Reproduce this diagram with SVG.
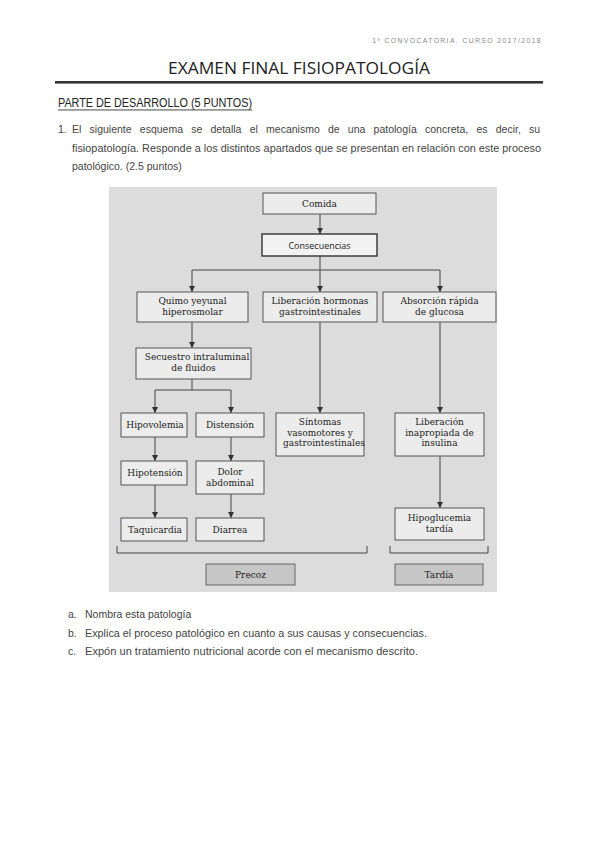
<svg xmlns="http://www.w3.org/2000/svg" width="599" height="848" viewBox="0 0 599 848">
<defs>
<marker id="arr" viewBox="0 0 8 8" refX="8" refY="4" markerWidth="6" markerHeight="6" markerUnits="userSpaceOnUse" orient="auto">
<path d="M0,0 L8,4 L0,8 z" fill="#333"/>
</marker>
</defs>
<style>
.hdr{font-family:"Liberation Sans",Arial,sans-serif;fill:#333}
.body{font-family:"Liberation Sans",Arial,sans-serif;font-size:10.5px;fill:#444}
.box{fill:#ececec;stroke:#555;stroke-width:1}
.dark{fill:#c6c6c6;stroke:#666;stroke-width:1}
.lbl{font-family:"DejaVu Serif","Liberation Serif",serif;font-size:9px;fill:#222;text-anchor:middle}
.sans{font-family:"Open Sans","Liberation Sans",sans-serif;font-size:9px;fill:#222;text-anchor:middle}
.con{fill:none;stroke:#444;stroke-width:1}
</style>
<rect width="599" height="848" fill="#ffffff"/>
<text class="hdr" x="542" y="43" font-size="6.8" style="fill:#888" text-anchor="end" letter-spacing="1.4">1º CONVOCATORIA. CURSO 2017/2018</text>
<text class="hdr" x="168" y="74" font-size="17" textLength="262" lengthAdjust="spacingAndGlyphs" style="font-family:'Open Sans','Liberation Sans',sans-serif;fill:#222">EXAMEN FINAL FISIOPATOLOGÍA</text>
<rect x="55" y="81" width="488" height="2.6" fill="#333"/>
<text class="hdr" x="58" y="107" font-size="12" textLength="194" lengthAdjust="spacingAndGlyphs" style="fill:#222">PARTE DE DESARROLLO (5 PUNTOS)</text>
<rect x="58" y="109.5" width="194" height="0.9" fill="#333"/>
<text class="body" x="58" y="133">1.</text>
<text class="body" x="72" y="133" word-spacing="5.3">El siguiente esquema se detalla el mecanismo de una patología concreta, es decir, su</text>
<text class="body" x="72" y="152" textLength="469" lengthAdjust="spacingAndGlyphs">fisiopatología. Responde a los distintos apartados que se presentan en relación con este proceso</text>
<text class="body" x="72" y="170">patológico. (2.5 puntos)</text>

<rect x="109" y="187" width="388" height="405" fill="#dcdcdc"/>

<g id="connectors">
<line class="con" x1="320" y1="214" x2="320" y2="234" marker-end="url(#arr)"/>
<line class="con" x1="320" y1="256" x2="320" y2="270"/>
<line class="con" x1="192" y1="270" x2="440" y2="270"/>
<line class="con" x1="192" y1="270" x2="192" y2="292" marker-end="url(#arr)"/>
<line class="con" x1="320" y1="270" x2="320" y2="292" marker-end="url(#arr)"/>
<line class="con" x1="440" y1="270" x2="440" y2="292" marker-end="url(#arr)"/>
<line class="con" x1="192" y1="322" x2="192" y2="348" marker-end="url(#arr)"/>
<line class="con" x1="192" y1="379" x2="192" y2="390"/>
<line class="con" x1="155" y1="390" x2="231" y2="390"/>
<line class="con" x1="155" y1="390" x2="155" y2="413" marker-end="url(#arr)"/>
<line class="con" x1="231" y1="390" x2="231" y2="413" marker-end="url(#arr)"/>
<line class="con" x1="320" y1="322" x2="320" y2="413" marker-end="url(#arr)"/>
<line class="con" x1="440" y1="322" x2="440" y2="413" marker-end="url(#arr)"/>
<line class="con" x1="155" y1="437" x2="155" y2="461" marker-end="url(#arr)"/>
<line class="con" x1="231" y1="437" x2="231" y2="461" marker-end="url(#arr)"/>
<line class="con" x1="155" y1="485" x2="155" y2="518" marker-end="url(#arr)"/>
<line class="con" x1="231" y1="494" x2="231" y2="518" marker-end="url(#arr)"/>
<line class="con" x1="440" y1="456" x2="440" y2="508" marker-end="url(#arr)"/>
<path class="con" d="M117,546 V553 H367 V546"/>
<path class="con" d="M390,546 V553 H488 V546"/>
</g>

<g id="comida"><rect class="box" x="263" y="193" width="113" height="21"/><text class="lbl" x="319.5" y="207">Comida</text></g>
<g id="consecuencias"><rect class="box" x="262" y="234" width="115" height="22" style="fill:#f2f2f2;stroke:#333;stroke-width:1.4"/><text class="sans" x="319.5" y="248.5">Consecuencias</text></g>
<g id="quimo"><rect class="box" x="137" y="292" width="111" height="30"/><text class="lbl" x="192.5" y="304">Quimo yeyunal</text><text class="lbl" x="192.5" y="315">hiperosmolar</text></g>
<g id="liberacion-hormonas"><rect class="box" x="263" y="292" width="114" height="30"/><text class="lbl" x="320" y="304">Liberación hormonas</text><text class="lbl" x="320" y="315">gastrointestinales</text></g>
<g id="absorcion"><rect class="box" x="383" y="292" width="113" height="30"/><text class="lbl" x="439.5" y="304">Absorción rápida</text><text class="lbl" x="439.5" y="315">de glucosa</text></g>
<g id="secuestro"><rect class="box" x="136" y="348" width="115" height="31"/><text class="lbl" x="197" y="360">Secuestro intraluminal</text><text class="lbl" x="193.5" y="371">de fluidos</text></g>
<g id="hipovolemia"><rect class="box" x="121" y="413" width="66" height="24"/><text class="lbl" x="155" y="428">Hipovolemia</text></g>
<g id="distension"><rect class="box" x="196" y="413" width="68" height="24"/><text class="lbl" x="230" y="428">Distensión</text></g>
<g id="sintomas"><rect class="box" x="276" y="413" width="88" height="43"/><text class="lbl" x="320" y="425">Síntomas</text><text class="lbl" x="320" y="435.5">vasomotores y</text><text class="lbl" x="324" y="446">gastrointestinales</text></g>
<g id="liberacion-insulina"><rect class="box" x="395" y="413" width="89" height="43"/><text class="lbl" x="439.5" y="425">Liberación</text><text class="lbl" x="439.5" y="435.5">inapropiada de</text><text class="lbl" x="439.5" y="446">insulina</text></g>
<g id="hipotension"><rect class="box" x="121" y="461" width="66" height="24"/><text class="lbl" x="155" y="476">Hipotensión</text></g>
<g id="dolor"><rect class="box" x="196" y="461" width="68" height="33"/><text class="lbl" x="230" y="475">Dolor</text><text class="lbl" x="230" y="486">abdominal</text></g>
<g id="taquicardia"><rect class="box" x="121" y="518" width="66" height="23"/><text class="lbl" x="155" y="533">Taquicardia</text></g>
<g id="diarrea"><rect class="box" x="196" y="518" width="68" height="23"/><text class="lbl" x="230" y="533">Diarrea</text></g>
<g id="hipoglucemia"><rect class="box" x="395" y="508" width="89" height="32"/><text class="lbl" x="439.5" y="521">Hipoglucemia</text><text class="lbl" x="439.5" y="532">tardía</text></g>
<g id="precoz"><rect class="dark" x="206" y="564" width="89" height="21"/><text class="lbl" x="250.5" y="578">Precoz</text></g>
<g id="tardia"><rect class="dark" x="395" y="564" width="88" height="21"/><text class="lbl" x="439" y="578">Tardía</text></g>

<text class="body" x="68" y="618">a.</text><text class="body" x="85" y="618">Nombra esta patología</text>
<text class="body" x="68" y="637">b.</text><text class="body" x="85" y="637" textLength="342" lengthAdjust="spacingAndGlyphs">Explica el proceso patológico en cuanto a sus causas y consecuencias.</text>
<text class="body" x="68" y="655">c.</text><text class="body" x="85" y="655" textLength="333" lengthAdjust="spacingAndGlyphs">Expón un tratamiento nutricional acorde con el mecanismo descrito.</text>
</svg>
